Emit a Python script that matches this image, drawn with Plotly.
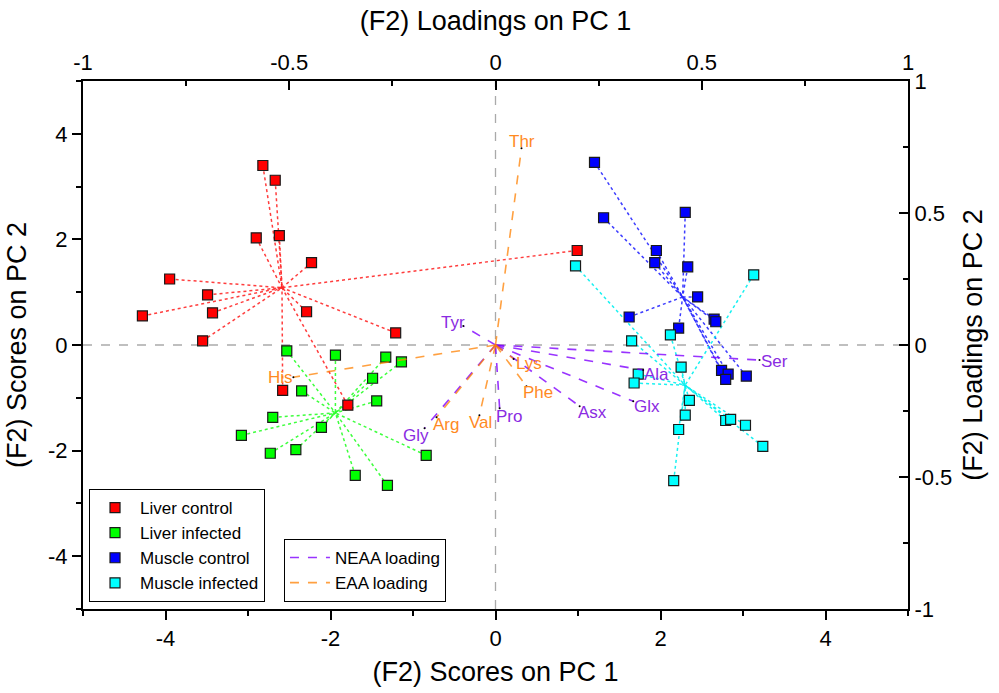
import plotly.graph_objects as go
import numpy as np

# ---------------- data ----------------
liver_control_x = [-2.82, -2.67, -2.90, -2.62, -2.23, -3.95, -3.49, -3.43, -4.28, -3.55, -2.29, -1.21, 0.99, -2.58, -1.79]
liver_control_y = [3.40, 3.12, 2.03, 2.07, 1.56, 1.25, 0.95, 0.61, 0.55, 0.08, 0.63, 0.23, 1.79, -0.86, -1.14]

liver_infected_x = [-2.53, -1.94, -1.33, -1.14, -1.49, -2.35, -1.44, -2.70, -3.08, -2.11, -2.73, -2.42, -0.84, -1.70, -1.31]
liver_infected_y = [-0.11, -0.19, -0.23, -0.32, -0.63, -0.87, -1.06, -1.37, -1.71, -1.56, -2.05, -1.98, -2.09, -2.47, -2.66]

muscle_control_x = [1.20, 1.31, 2.30, 1.95, 1.93, 2.33, 2.45, 1.62, 2.65, 2.67, 2.22, 2.74, 2.82, 2.79, 3.04]
muscle_control_y = [3.46, 2.41, 2.51, 1.79, 1.56, 1.48, 0.91, 0.53, 0.49, 0.44, 0.32, -0.48, -0.55, -0.65, -0.59]

muscle_infected_x = [0.97, 3.13, 1.65, 2.12, 2.25, 1.73, 1.68, 2.35, 2.30, 2.22, 2.79, 2.85, 3.03, 3.24, 2.16]
muscle_infected_y = [1.50, 1.33, 0.08, 0.19, -0.42, -0.55, -0.72, -1.05, -1.33, -1.60, -1.43, -1.41, -1.52, -1.92, -2.57]

neaa_names = ["Tyr", "Gly", "Pro", "Asx", "Glx", "Ala", "Ser"]
neaa_load_x = [-0.078, -0.172, 0.010, 0.204, 0.334, 0.358, 0.640]
neaa_load_y = [0.072, -0.315, -0.240, -0.232, -0.213, -0.095, -0.057]

eaa_names = ["Thr", "His", "Arg", "Val", "Lys", "Phe"]
eaa_load_x = [0.063, -0.490, -0.143, -0.039, 0.044, 0.075]
eaa_load_y = [0.745, -0.122, -0.274, -0.266, -0.053, -0.156]

score_ticks = [-4, -2, 0, 2, 4]
score_ticktext = ["-4", "-2", "0", "2", "4"]
load_ticks = [-1, -0.5, 0, 0.5, 1]
load_ticktext = ["-1", "-0.5", "0", "0.5", "1"]

# label offsets (pixels: dx right, dy down) relative to loading end point
label_offset = {
    "Thr": (1, -7), "Tyr": (-10, -3), "His": (-13, 0), "Gly": (-9, 7),
    "Arg": (9, 7), "Val": (1, 7), "Pro": (9, 8), "Lys": (15, 5),
    "Phe": (12, 6), "Asx": (13, 6), "Glx": (14, 5), "Ala": (13, 4), "Ser": (15, 1),
}

FONT = "Liberation Sans, Arial, sans-serif"
NEAA_LINE = "rgba(128,0,255,0.8)"
NEAA_TEXT = "#8A2BE2"
EAA_LINE = "rgba(255,128,0,0.75)"
EAA_TEXT = "#FF8A1F"

fig = go.Figure()

groups = [
    ("Liver control", liver_control_x, liver_control_y, "#FF0000", "rgba(255,40,40,0.9)"),
    ("Liver infected", liver_infected_x, liver_infected_y, "#00FF00", "rgba(40,255,40,0.9)"),
    ("Muscle control", muscle_control_x, muscle_control_y, "#0000FF", "rgba(40,40,255,0.9)"),
    ("Muscle infected", muscle_infected_x, muscle_infected_y, "#00FFFF", "rgba(0,240,240,0.9)"),
]

# spokes to group centroids
for name, xs, ys, col, lcol in groups:
    cx, cy = float(np.mean(xs)), float(np.mean(ys))
    lx, ly = [], []
    for x, y in zip(xs, ys):
        lx += [x, cx, None]
        ly += [y, cy, None]
    fig.add_trace(go.Scatter(x=lx, y=ly, mode="lines",
                             line=dict(color=lcol, width=1.5, dash="dot"),
                             showlegend=False, hoverinfo="skip"))

# loading vectors
def add_loadings(names, lx, ly, color, label):
    xs, ys = [], []
    for x, y in zip(lx, ly):
        xs += [0, x, None]
        ys += [0, y, None]
    fig.add_trace(go.Scatter(x=xs, y=ys, mode="lines", xaxis="x2", yaxis="y2",
                             line=dict(color=color, width=1.6, dash="dash"),
                             name=label, legend="legend2"))
    fig.add_trace(go.Scatter(x=lx, y=ly, mode="markers", xaxis="x2", yaxis="y2",
                             marker=dict(color="black", size=2),
                             showlegend=False, hoverinfo="skip"))

add_loadings(neaa_names, neaa_load_x, neaa_load_y, NEAA_LINE, "NEAA loading")
add_loadings(eaa_names, eaa_load_x, eaa_load_y, EAA_LINE, "EAA loading")

# score markers
for name, xs, ys, col, lcol in groups:
    fig.add_trace(go.Scatter(x=xs, y=ys, mode="markers", name=name,
                             marker=dict(symbol="square", size=10, color=col,
                                         line=dict(color="#1a1a1a", width=1.2)),
                             legend="legend"))

annotations = []
for names, lx, ly, tcol in [(neaa_names, neaa_load_x, neaa_load_y, NEAA_TEXT),
                            (eaa_names, eaa_load_x, eaa_load_y, EAA_TEXT)]:
    for n, x, y in zip(names, lx, ly):
        dx, dy = label_offset[n]
        annotations.append(dict(x=x, y=y, xref="x2", yref="y2", text=n, showarrow=False,
                                xanchor="center", yanchor="middle", xshift=dx, yshift=-dy,
                                font=dict(family=FONT, size=17, color=tcol)))

shapes = [
    dict(type="line", xref="x", yref="paper", x0=0, x1=0, y0=0, y1=1,
         line=dict(color="#aaaaaa", width=1.3, dash="dash"), layer="below"),
    dict(type="line", xref="paper", yref="y", x0=0, x1=1, y0=0, y1=0,
         line=dict(color="#aaaaaa", width=1.3, dash="dash"), layer="below"),
]

axis_common = dict(showgrid=False, zeroline=False, showline=True, linecolor="black",
                   linewidth=2, mirror=False, tickcolor="black", tickwidth=1.5,
                   automargin=False,
                   tickfont=dict(family=FONT, size=22, color="black"))
TITLE_FONT = dict(family=FONT, size=27, color="black")

fig.update_layout(
    width=999, height=693,
    margin=dict(l=83, r=91, t=81, b=84, autoexpand=False),
    paper_bgcolor="white", plot_bgcolor="white",
    font=dict(family=FONT, color="black"),
    annotations=annotations, shapes=shapes,
    xaxis=dict(range=[-5, 5], tickvals=score_ticks, ticktext=score_ticktext,
               ticks="outside", ticklen=9,
               minor=dict(ticks="outside", ticklen=5, dtick=1, tickcolor="black", tickwidth=1.5),
               title=dict(text="(F2) Scores on PC 1", font=TITLE_FONT, standoff=12),
               **axis_common),
    yaxis=dict(range=[-5, 5], tickvals=score_ticks, ticktext=score_ticktext,
               ticks="outside", ticklen=9,
               minor=dict(ticks="outside", ticklen=5, dtick=1, tickcolor="black", tickwidth=1.5),
               title=dict(text="(F2) Scores on PC 2", font=TITLE_FONT, standoff=14),
               **axis_common),
    xaxis2=dict(range=[-1, 1], overlaying="x", side="top", anchor="y",
                tickvals=load_ticks, ticktext=load_ticktext,
                ticks="inside", ticklen=9,
                minor=dict(ticks="inside", ticklen=5, dtick=0.25, tickcolor="black", tickwidth=1.5),
                title=dict(text="(F2) Loadings on PC 1", font=TITLE_FONT, standoff=12),
                **axis_common),
    yaxis2=dict(range=[-1, 1], overlaying="y", side="right", anchor="x",
                tickvals=load_ticks, ticktext=load_ticktext,
                ticks="inside", ticklen=9,
                minor=dict(ticks="inside", ticklen=5, dtick=0.25, tickcolor="black", tickwidth=1.5),
                title=dict(text="(F2) Loadings on PC 2", font=TITLE_FONT, standoff=12),
                **axis_common),
    legend=dict(x=0.0073, y=0.0133, xanchor="left", yanchor="bottom",
                bgcolor="white", bordercolor="black", borderwidth=1,
                font=dict(family=FONT, size=17, color="black"),
                tracegroupgap=0, itemwidth=40),
    legend2=dict(x=0.2436, y=0.0133, xanchor="left", yanchor="bottom",
                 bgcolor="white", bordercolor="black", borderwidth=1,
                 font=dict(family=FONT, size=17, color="black"),
                 tracegroupgap=0, itemwidth=40),
    showlegend=True,
)

fig.write_html("out.html", config={"displayModeBar": False},
               post_script="document.body.style.margin='0';document.body.style.padding='0';")
